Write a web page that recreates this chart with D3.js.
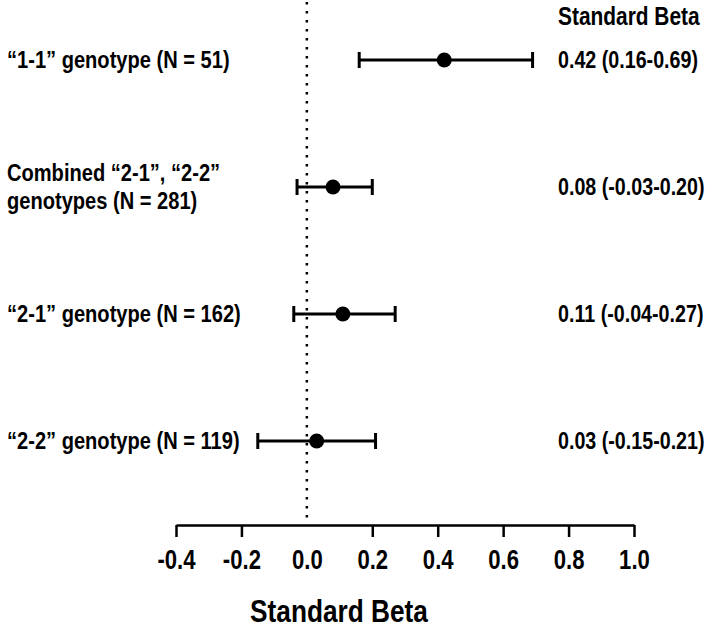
<!DOCTYPE html>
<head>
    <meta charset="utf-8">
    <title>Forest plot</title>
    <script src="https://cdnjs.cloudflare.com/ajax/libs/d3/7.8.5/d3.min.js"></script>
    <style>
    body {
        margin:0;
        background:white;
    }
    text {
        font-family:'Liberation Sans',Arial,sans-serif;
        font-weight:bold;
        fill:black;
    }
    </style>
</head>
<body>
    <div id='chart'></div>
    <script>
        // data
        var labels = [
            ['\u201C1-1\u201D genotype (N = 51)'],
            ['Combined \u201C2-1\u201D, \u201C2-2\u201D', 'genotypes (N = 281)'],
            ['\u201C2-1\u201D genotype (N = 162)'],
            ['\u201C2-2\u201D genotype (N = 119)']
        ];
        var betas = [0.42, 0.08, 0.11, 0.03];
        var lower = [0.16, -0.03, -0.04, -0.15];
        var upper = [0.69, 0.20, 0.27, 0.21];
        var tickValues = [-0.4, -0.2, 0.0, 0.2, 0.4, 0.6, 0.8, 1.0];

        var width = 709, height = 628;
        var squeeze = 0.82; // no narrow font installed, so squeeze the glyphs

        var svg = d3.select('#chart')
            .append('svg')
            .attr('width', width)
            .attr('height', height);

        var x = d3.scaleLinear()
            .domain([-0.4, 1.0])
            .range([176, 634]);

        var y = d3.scaleLinear()
            .domain([0, 3])
            .range([60, 441]);

        var axisY = 525;

        // put text in a narrow-looking group at (tx, ty)
        function narrowText(tx, ty, size, anchor) {
            return svg.append('text')
                .attr('transform', 'translate(' + tx + ',' + ty + ') scale(' + squeeze + ',1)')
                .attr('font-size', size)
                .attr('text-anchor', anchor || 'start');
        }

        // dotted zero line
        svg.append('line')
            .attr('x1', x(0)).attr('x2', x(0))
            .attr('y1', 2).attr('y2', 519)
            .attr('stroke', 'black')
            .attr('stroke-width', 2.5)
            .attr('stroke-dasharray', '2.5,6.5');

        // axis
        var axis = svg.append('g')
            .attr('transform', 'translate(0,' + axisY + ')')
            .call(d3.axisBottom(x)
                .tickValues(tickValues)
                .tickFormat(function(d) { return d3.format('.1f')(d).replace('\u2212', '-'); })
                .tickSize(12)
                .tickSizeOuter(0)
                .tickPadding(13));
        axis.attr('font-family', null).attr('font-size', null);
        axis.select('.domain').attr('stroke-width', 2.5);
        axis.selectAll('.tick line')
            .attr('stroke-width', 2.5)
            .attr('display', function(d) { return d === 0 ? 'none' : null; });
        axis.selectAll('.tick text')
            .attr('font-size', 27)
            .attr('transform', 'scale(' + squeeze + ',1)');

        narrowText(339, 622, 32, 'middle').text('Standard Beta');
        narrowText(558, 25, 25.5).text('Standard Beta');

        var rows = svg.selectAll('.row')
            .data(betas)
            .enter().append('g')
            .attr('class', 'row');

        // CI lines
        rows.append('line')
            .attr('x1', function(d, i) { return x(lower[i]); })
            .attr('x2', function(d, i) { return x(upper[i]); })
            .attr('y1', function(d, i) { return y(i); })
            .attr('y2', function(d, i) { return y(i); })
            .attr('stroke', 'black')
            .attr('stroke-width', 3);

        // caps
        [lower, upper].forEach(function(arr) {
            rows.append('line')
                .attr('x1', function(d, i) { return x(arr[i]); })
                .attr('x2', function(d, i) { return x(arr[i]); })
                .attr('y1', function(d, i) { return y(i) - 8; })
                .attr('y2', function(d, i) { return y(i) + 8; })
                .attr('stroke', 'black')
                .attr('stroke-width', 3);
        });

        rows.append('circle')
            .attr('cx', function(d) { return x(d); })
            .attr('cy', function(d, i) { return y(i); })
            .attr('r', 7.5)
            .attr('fill', 'black');

        // row labels and values
        betas.forEach(function(d, i) {
            var lines = labels[i];
            var t = narrowText(7, y(i) + 8, 24.5);
            lines.forEach(function(l, j) {
                t.append('tspan')
                    .attr('x', 0)
                    .attr('y', (j - (lines.length - 1) / 2) * 28)
                    .text(l);
            });

            narrowText(558, y(i) + 8, 24)
                .text(d.toFixed(2) + ' (' + lower[i].toFixed(2) + '-' + upper[i].toFixed(2) + ')');
        });
    </script>
</body>
</html>
